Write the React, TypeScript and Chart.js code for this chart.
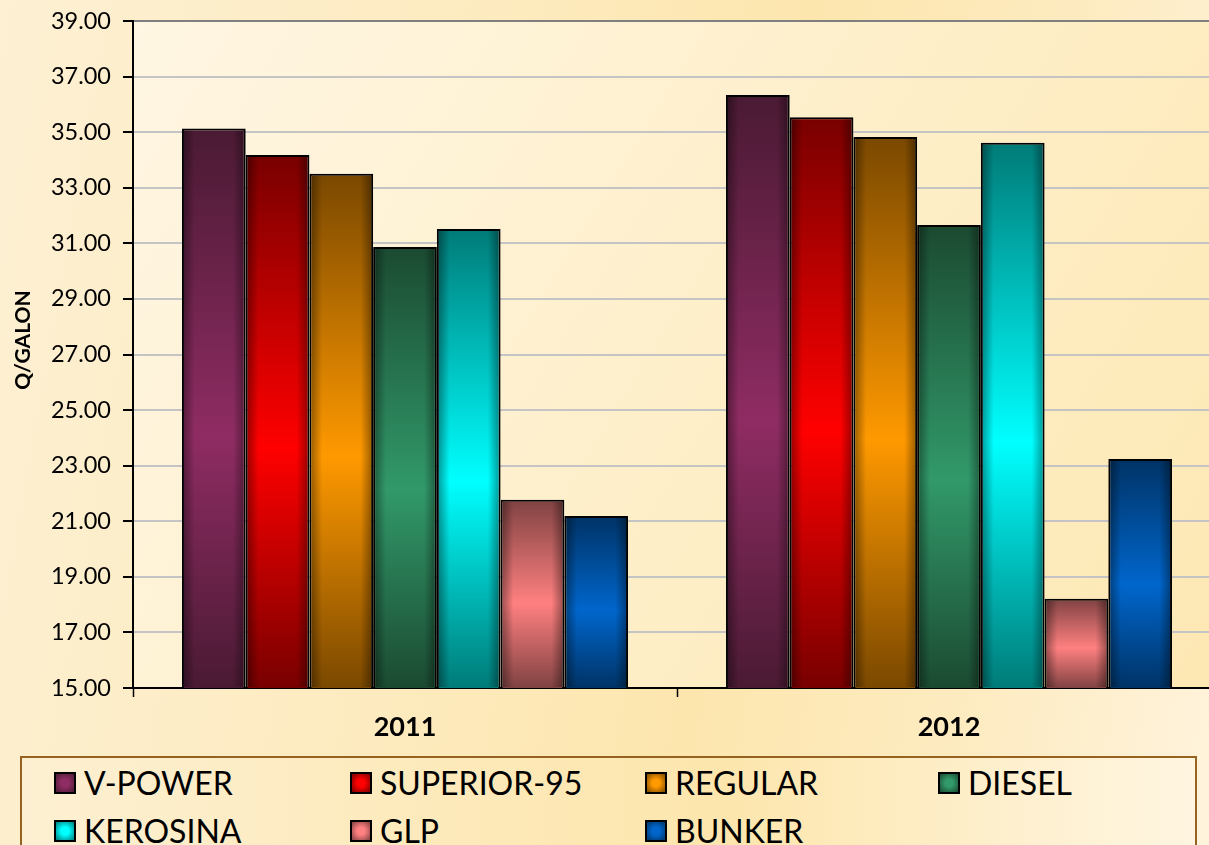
import React, { useEffect, useRef } from 'react';
import { Chart, registerables } from 'chart.js';

Chart.register(...registerables);

// ---- data ----
const categories = ['2011', '2012'];
const seriesNames = ['V-POWER', 'SUPERIOR-95', 'REGULAR', 'DIESEL', 'KEROSINA', 'GLP', 'BUNKER'];
const vPower = [35.13, 36.34];
const superior95 = [34.18, 35.54];
const regular = [33.5, 34.83];
const diesel = [30.87, 31.66];
const kerosina = [31.52, 34.62];
const glp = [21.77, 18.21];
const bunker = [21.19, 23.24];
const yMin = 15;
const yMax = 39;
const yStep = 2;
const yTitle = 'Q/GALON';

const seriesValues = [vPower, superior95, regular, diesel, kerosina, glp, bunker];

// ---- styles ----
const darkColors = ['#4a1a33', '#780000', '#7a4800', '#1b4a31', '#007b78', '#804242', '#003366'];
const brightColors = ['#8f2c63', '#ff0000', '#ff9900', '#31996a', '#00ffff', '#ff8080', '#0066cc'];
const FONT = "Lato, 'Open Sans', 'DejaVu Sans', sans-serif";

const W = 1222;
const H = 760;
const PLOT_LEFT = 133;
const PLOT_TOP = 21;
const PLOT_BOTTOM = 688;

const chartAreaBg = {
  id: 'chartAreaBg',
  beforeDraw(chart: any) {
    const { ctx, chartArea } = chart;
    if (!chartArea) return;
    const g = ctx.createLinearGradient(chartArea.left, chartArea.top, chartArea.right, chartArea.bottom);
    g.addColorStop(0, '#fff6e3');
    g.addColorStop(0.6, '#feeec6');
    g.addColorStop(1, '#fde8b3');
    ctx.save();
    ctx.fillStyle = g;
    ctx.fillRect(chartArea.left, chartArea.top, chartArea.right - chartArea.left, chartArea.bottom - chartArea.top);
    ctx.restore();
  },
};

const barShade = {
  id: 'barShade',
  afterDatasetsDraw(chart: any) {
    const { ctx, chartArea } = chart;
    ctx.save();
    ctx.beginPath();
    ctx.rect(chartArea.left, chartArea.top, chartArea.right - chartArea.left, chartArea.bottom - chartArea.top);
    ctx.clip();
    chart.data.datasets.forEach((_: any, di: number) => {
      const meta = chart.getDatasetMeta(di);
      meta.data.forEach((el: any) => {
        const { x, y, width } = el.getProps(['x', 'y', 'width'], true);
        const left = x - width / 2 + 2;
        const w = width - 4;
        const top = y + 2;
        const h = chartArea.bottom - top - 1;
        if (w <= 0 || h <= 0) return;
        const g = ctx.createLinearGradient(left, 0, left + w, 0);
        g.addColorStop(0, 'rgba(0,0,0,0.35)');
        g.addColorStop(0.18, 'rgba(0,0,0,0)');
        g.addColorStop(0.82, 'rgba(0,0,0,0)');
        g.addColorStop(1, 'rgba(0,0,0,0.35)');
        ctx.fillStyle = g;
        ctx.fillRect(left, top, w, h);
      });
    });
    ctx.restore();
  },
};

const yTitlePlugin = {
  id: 'yTitlePlugin',
  afterDraw(chart: any) {
    const { ctx } = chart;
    ctx.save();
    ctx.translate(23, 340);
    ctx.rotate(-Math.PI / 2);
    ctx.font = `bold 21px ${FONT}`;
    ctx.fillStyle = '#000000';
    ctx.textAlign = 'center';
    ctx.textBaseline = 'middle';
    ctx.fillText(yTitle, 0, 0);
    ctx.restore();
  },
};

function makeFill(i: number) {
  return (c: any) => {
    const chart = c.chart;
    if (!chart.chartArea || c.type !== 'data') return brightColors[i];
    const ys = chart.scales.y;
    const y0 = ys.getPixelForValue(c.raw);
    const y1 = ys.getPixelForValue(yMin);
    if (!isFinite(y0) || !isFinite(y1) || y1 - y0 < 1) return brightColors[i];
    const g = chart.ctx.createLinearGradient(0, y0, 0, y1);
    g.addColorStop(0, darkColors[i]);
    g.addColorStop(0.55, brightColors[i]);
    g.addColorStop(1, darkColors[i]);
    return g;
  };
}

export default function App() {
  const canvasRef = useRef<HTMLCanvasElement | null>(null);

  useEffect(() => {
    if (!canvasRef.current) return;
    const chart = new Chart(canvasRef.current, {
      type: 'bar',
      data: {
        labels: categories,
        datasets: seriesNames.map((name, i) => ({
          label: name,
          data: seriesValues[i],
          backgroundColor: makeFill(i),
          borderColor: '#000000',
          borderWidth: 2,
          borderSkipped: false,
          categoryPercentage: 0.82,
          barPercentage: 1.0,
        })),
      },
      options: {
        responsive: false,
        animation: false,
        layout: { padding: { top: PLOT_TOP, right: 1, left: 0, bottom: 0 } },
        plugins: {
          legend: { display: false },
          tooltip: { enabled: false },
        },
        scales: {
          x: {
            grid: {
              drawOnChartArea: false,
              drawTicks: true,
              tickLength: 9,
              tickColor: '#000000',
              tickWidth: 1.5,
            },
            border: { color: '#000000', width: 2 },
            ticks: {
              color: '#000000',
              padding: 14,
              font: { family: FONT, size: 27, weight: 'bold' },
            },
            afterFit(scale: any) {
              scale.height = H - PLOT_BOTTOM;
              scale.paddingLeft = 0;
              scale.paddingRight = 0;
            },
          },
          y: {
            min: yMin,
            max: yMax,
            ticks: {
              stepSize: yStep,
              color: '#000000',
              padding: 12,
              font: { family: FONT, size: 23.5 },
              callback: (v: any) => Number(v).toFixed(2),
            },
            grid: {
              color: (c: any) => (c.tick && c.tick.value === yMax ? '#7f7f7f' : '#c4c4c4'),
              lineWidth: 2,
              tickLength: 10,
              tickColor: '#000000',
              tickWidth: 2,
            },
            border: { color: '#000000', width: 2 },
            title: { display: false },
            afterFit(scale: any) {
              scale.width = PLOT_LEFT;
              scale.paddingTop = 0;
              scale.paddingBottom = 0;
            },
          },
        },
      },
      plugins: [chartAreaBg, barShade, yTitlePlugin],
    });
    return () => chart.destroy();
  }, []);

  const colLefts = [34, 330, 625, 918];
  const rowTops = [8, 56];

  return (
    <div
      style={{
        position: 'absolute',
        left: 0,
        top: 0,
        width: 1209,
        height: 845,
        overflow: 'hidden',
        background:
          'linear-gradient(100deg, #fdf0d3 0%, #fdebc0 35%, #fde6ae 60%, #fdebc0 80%, #fff3dc 100%)',
        fontFamily: FONT,
      }}
    >
      <canvas
        ref={canvasRef}
        width={W}
        height={H}
        style={{ position: 'absolute', left: 0, top: 0, width: W, height: H }}
      />
      <div
        style={{
          position: 'absolute',
          left: 20,
          top: 756,
          width: 1177,
          height: 120,
          boxSizing: 'border-box',
          border: '2px solid #95621f',
          background:
            'linear-gradient(90deg, #fdf0d2 0%, #fde9b8 40%, #fde6ad 60%, #fef0cf 85%, #fff5e0 100%)',
        }}
      >
        {seriesNames.map((name, i) => {
          const col = i % 4;
          const row = Math.floor(i / 4);
          return (
            <div
              key={name}
              style={{
                position: 'absolute',
                left: colLefts[col] - 2,
                top: rowTops[row] - 2,
                height: 38,
                display: 'flex',
                alignItems: 'center',
                whiteSpace: 'nowrap',
              }}
            >
              <span
                style={{
                  display: 'inline-block',
                  width: 22,
                  height: 22,
                  boxSizing: 'border-box',
                  border: '2px solid #000',
                  background: `radial-gradient(circle, ${brightColors[i]} 30%, ${darkColors[i]} 100%)`,
                  marginRight: 8,
                }}
              />
              <span style={{ fontSize: 32, color: '#000', lineHeight: '38px' }}>{name}</span>
            </div>
          );
        })}
      </div>
    </div>
  );
}
